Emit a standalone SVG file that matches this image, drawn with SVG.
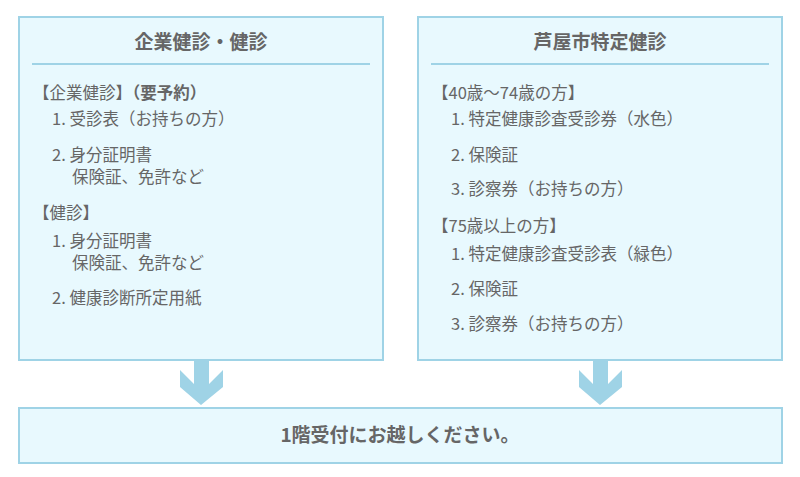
<svg xmlns="http://www.w3.org/2000/svg" width="800" height="477" viewBox="0 0 800 477">
<style>
.box{fill:#e8f9fe;stroke:#9fd3e6;stroke-width:2}
.t{font-family:"Noto Sans CJK JP",sans-serif;fill:#666;font-size:16.5px}
.h{font-weight:bold;font-size:19px;text-anchor:middle}
.arr{fill:#9fd3e6}
</style>
<rect width="800" height="477" fill="#fff"/>
<g id="left">
<rect class="box" x="19" y="17" width="364" height="343"/>
<line x1="32" y1="64" x2="370" y2="64" stroke="#9fd3e6" stroke-width="2"/>
<text class="t h" x="201" y="49">企業健診・健診</text>
<text class="t" x="33" y="99">【企業健診】<tspan font-weight="bold">（要予約）</tspan></text>
<text class="t" x="52" y="125">1. 受診表（お持ちの方）</text>
<text class="t" x="52" y="161">2. 身分証明書</text>
<text class="t" x="72" y="183">保険証、免許など</text>
<text class="t" x="33" y="219">【健診】</text>
<text class="t" x="52" y="247">1. 身分証明書</text>
<text class="t" x="72" y="269">保険証、免許など</text>
<text class="t" x="52" y="304">2. 健康診断所定用紙</text>
</g>
<g id="right">
<rect class="box" x="418" y="17" width="364" height="343"/>
<line x1="431" y1="64" x2="769" y2="64" stroke="#9fd3e6" stroke-width="2"/>
<text class="t h" x="600" y="49">芦屋市特定健診</text>
<text class="t" x="432" y="99">【40歳〜74歳の方】</text>
<text class="t" x="451" y="125">1. 特定健康診査受診券（水色）</text>
<text class="t" x="451" y="161">2. 保険証</text>
<text class="t" x="451" y="195">3. 診察券（お持ちの方）</text>
<text class="t" x="432" y="232">【75歳以上の方】</text>
<text class="t" x="451" y="260">1. 特定健康診査受診表（緑色）</text>
<text class="t" x="451" y="295">2. 保険証</text>
<text class="t" x="451" y="330">3. 診察券（お持ちの方）</text>
</g>
<g id="bottom">
<rect class="box" x="19" y="408" width="763" height="55"/>
<text class="t h" x="400" y="442">1階受付にお越しください。</text>
</g>
<g id="connectors">
<polygon class="arr" points="194,361 209,361 209,384 223,370 223,387 201,405 180,387 180,370 194,384"/>
<polygon class="arr" points="593,361 608,361 608,384 622,370 622,387 600,405 579,387 579,370 593,384"/>
</g>
</svg>
